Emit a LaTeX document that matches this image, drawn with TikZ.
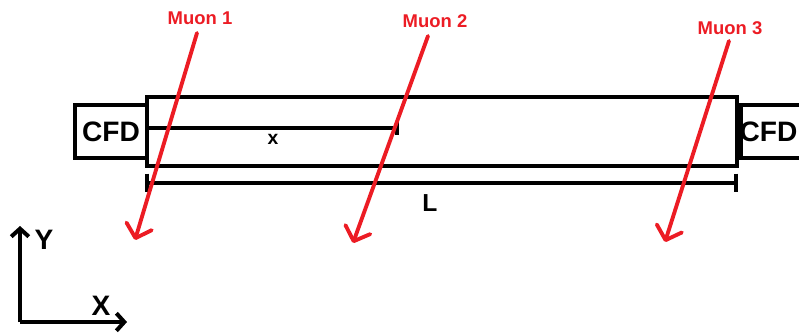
\documentclass[tikz,border=0pt]{standalone}
\usepackage{fontspec}
\setmainfont{Liberation Sans}
\usetikzlibrary{arrows.meta, positioning}
\definecolor{muonred}{RGB}{236,28,36}

\tikzset{
  box/.style={draw, line width=2.3pt, fill=white, inner sep=0pt,
    font=\fontsize{16}{18}\selectfont\bfseries},
  dim/.style={line width=2.3pt},
  muon/.style={draw=muonred, line width=2.2pt, line cap=round,
    -{Straight Barb[length=7pt, width=15pt, line cap=round, line join=round]}},
  muonlab/.style={text=muonred, font=\fontsize{10.5}{12}\selectfont\bfseries},
  axis/.style={line width=2.3pt, -{Straight Barb[length=4.5pt, width=10pt]}},
  axlab/.style={font=\fontsize{16}{18}\selectfont\bfseries},
}

\begin{document}
\begin{tikzpicture}[x=0.02cm, y=-0.02cm]
  \useasboundingbox (0,0) rectangle (799,335);
  \clip (0,0) rectangle (799,335);

  %--- detector tube and readout ---
  \node[box, minimum width=11.8cm, minimum height=1.38cm] (tube) at (442,131.5) {};
  \node[box, minimum width=1.44cm, minimum height=1.06cm] (cfdl) at (111,131.5) {CFD};
  \node[box, minimum width=1.44cm, minimum height=1.06cm, anchor=west] (cfdr)
    at (tube.east) {\hspace*{-0.34cm}CFD};

  %--- position x and length L ---
  \coordinate (xs) at (147,128);
  \coordinate (xe) at (397,128);
  \draw[dim] (xs) -- (xe);
  \draw[dim] ([yshift=3.7pt]xe) -- ([yshift=-3.7pt]xe);
  \node[font=\fontsize{11}{12}\selectfont\bfseries] (xlab) at (273,139) {x};

  \coordinate (ls) at (147,183);
  \coordinate (le) at (736,183);
  \draw[dim] (ls) -- (le);
  \draw[dim] ([yshift=5.4pt]ls) -- ([yshift=-5.4pt]ls);
  \draw[dim] ([yshift=5.4pt]le) -- ([yshift=-5.4pt]le);
  \node[font=\fontsize{14}{16}\selectfont\bfseries] (llab) at (430,203) {L};

  %--- muon tracks ---
  \node[muonlab] (m1lab) at (200,18) {Muon 1};
  \node[muonlab] (m2lab) at (435,21) {Muon 2};
  \node[muonlab] (m3lab) at (730,28) {Muon 3};
  \coordinate (m1s) at (197,33);
  \coordinate (m1e) at (135,240);
  \coordinate (m2s) at (428,36);
  \coordinate (m2e) at (353,243);
  \coordinate (m3s) at (729,41);
  \coordinate (m3e) at (665,242);
  \draw[muon] (m1s) -- (m1e);
  \draw[muon] (m2s) -- (m2e);
  \draw[muon] (m3s) -- (m3e);

  %--- axes ---
  \coordinate (o) at (20,322);
  \coordinate (ytip) at (20,226);
  \coordinate (xtip) at (127,322);
  \draw[axis] (o) -- (ytip);
  \draw[axis] (o) -- (xtip);
  \node[axlab] (ylab) at (44,240) {Y};
  \node[axlab] (xaxlab) at (101,306) {X};
\end{tikzpicture}
\end{document}
